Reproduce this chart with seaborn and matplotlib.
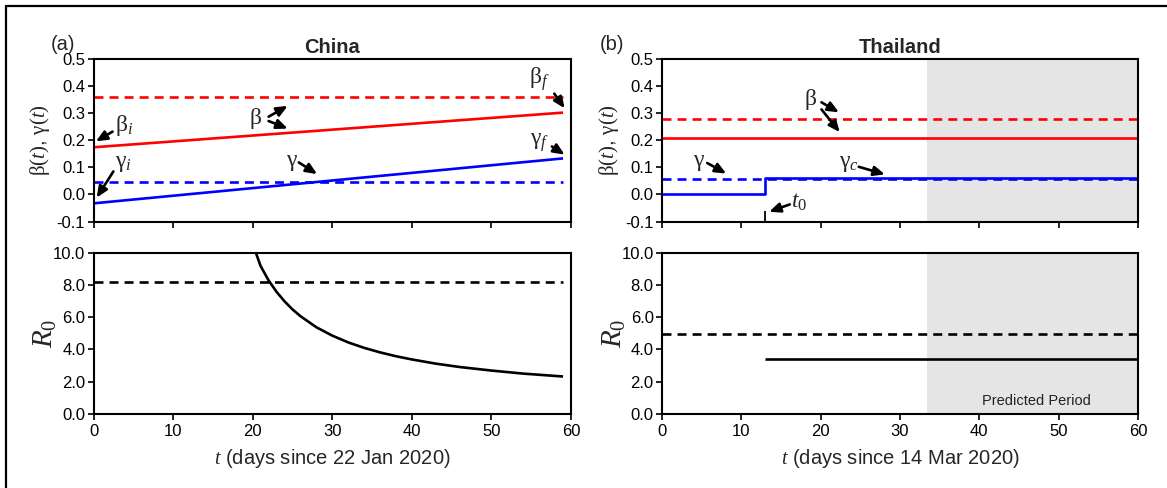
import numpy as np
import pandas as pd
import matplotlib
matplotlib.use("Agg")
import matplotlib.pyplot as plt
from matplotlib.lines import Line2D
import seaborn as sns

# ---------------- data ----------------
# China
cn_t_lin = [0, 59]
cn_beta = [0.174, 0.302]
cn_gamma = [-0.033, 0.133]
cn_beta_const = 0.361
cn_gamma_const = 0.045
cn_r0_t = [20.4, 21, 22, 23, 24, 25, 26, 28, 30, 32, 34, 36, 38, 40, 43, 46, 50, 54, 59]
cn_r0 = [10.0, 9.17, 8.28, 7.57, 6.98, 6.48, 6.06, 5.37, 4.85, 4.43, 4.09, 3.81,
         3.57, 3.37, 3.11, 2.90, 2.68, 2.49, 2.31]
cn_r0_const = 8.18

# Thailand
th_t_line = [0, 60]
th_beta_const = 0.278
th_beta = 0.207
th_gamma_const = 0.057
th_gamma_t = [0, 13, 60]
th_gamma = [0.0, 0.062, 0.062]
th_t0 = 13
th_r0_t = [13, 60]
th_r0 = [3.38, 3.38]
th_r0_const = 4.95
th_pred_start = 33.4
th_pred_end = 60

xticks = [0, 10, 20, 30, 40, 50, 60]
top_yticks = [-0.1, 0.0, 0.1, 0.2, 0.3, 0.4, 0.5]
bot_yticks = [0.0, 2.0, 4.0, 6.0, 8.0, 10.0]

# ---------------- style ----------------
sns.set_theme(style="ticks")
plt.rcParams["font.family"] = ["Liberation Sans", "DejaVu Sans"]
plt.rcParams["mathtext.fontset"] = "custom"
plt.rcParams["mathtext.rm"] = "Liberation Serif"
plt.rcParams["mathtext.it"] = "Liberation Serif:italic"
plt.rcParams["mathtext.bf"] = "Liberation Serif:bold"

RED = "#ff0000"
BLUE = "#0000ff"
LW = 1.9
DASH = (3.4, 2.3)

W, H = 1167, 488
fig = plt.figure(figsize=(W / 100, H / 100), dpi=100)


def ax_rect(x0, x1, ytop, ybot):
    return [x0 / W, 1 - ybot / H, (x1 - x0) / W, (ybot - ytop) / H]


axA1 = fig.add_axes(ax_rect(93.5, 571, 59, 221.5))
axA2 = fig.add_axes(ax_rect(93.5, 571, 252.7, 413.7))
axB1 = fig.add_axes(ax_rect(662, 1138, 59, 221.5))
axB2 = fig.add_axes(ax_rect(662, 1138, 252.7, 413.7))


def line(ax, x, y, color, dashed=False, **kw):
    sns.lineplot(x=x, y=y, ax=ax, color=color, lw=LW, estimator=None,
                 sort=False, legend=False, **kw)
    ln = ax.lines[-1]
    ln.set_solid_capstyle("butt")
    if dashed:
        ln.set_dashes(DASH)
        ln.set_dash_capstyle("butt")
    return ln


def style_axes(ax, yticks, ylim, fmt, xlabels):
    ax.set_xlim(0, 60)
    ax.set_ylim(*ylim)
    ax.set_xticks(xticks)
    ax.set_yticks(yticks)
    ax.set_yticklabels([fmt.format(v) for v in yticks])
    if xlabels:
        ax.set_xticklabels([str(v) for v in xticks])
    else:
        ax.set_xticklabels([])
    for sp in ax.spines.values():
        sp.set_visible(True)
        sp.set_linewidth(1.5)
        sp.set_color("black")
    ax.tick_params(axis="both", direction="out", length=4.5, width=1.2,
                   colors="black", labelsize=12, pad=1.5)
    ax.tick_params(axis="x", pad=3)
    ax.set_xlabel("")
    ax.set_ylabel("")
    ax.set_facecolor("white")


# ---- China top
line(axA1, cn_t_lin, [cn_beta_const] * 2, RED, dashed=True)
line(axA1, cn_t_lin, cn_beta, RED)
line(axA1, cn_t_lin, [cn_gamma_const] * 2, BLUE, dashed=True)
line(axA1, cn_t_lin, cn_gamma, BLUE)
style_axes(axA1, top_yticks, (-0.1, 0.5), "{:.1f}", False)

# ---- China bottom
line(axA2, [0, 59], [cn_r0_const] * 2, "black", dashed=True)
line(axA2, cn_r0_t, cn_r0, "black")
style_axes(axA2, bot_yticks, (0, 10), "{:.1f}", True)

# ---- Thailand top
axB1.axvspan(th_pred_start, th_pred_end, color="#e5e5e5", lw=0, zorder=0)
line(axB1, th_t_line, [th_beta_const] * 2, RED, dashed=True)
line(axB1, th_t_line, [th_beta] * 2, RED)
line(axB1, th_t_line, [th_gamma_const] * 2, BLUE, dashed=True)
line(axB1, th_gamma_t, th_gamma, BLUE, drawstyle="steps-post")
line(axB1, [th_t0, th_t0], [-0.1, -0.06], "black")
axB1.lines[-1].set_linewidth(1.3)
style_axes(axB1, top_yticks, (-0.1, 0.5), "{:.1f}", False)

# ---- Thailand bottom
axB2.axvspan(th_pred_start, th_pred_end, color="#e5e5e5", lw=0, zorder=0)
line(axB2, th_t_line, [th_r0_const] * 2, "black", dashed=True)
line(axB2, th_r0_t, th_r0, "black")
style_axes(axB2, bot_yticks, (0, 10), "{:.1f}", True)
axB2.text(47.2, 0.77, "Predicted Period", ha="center", va="center",
          fontsize=10.5, color="#222222")

# ---- labels
for ax, x0 in ((axA1, 93.5), (axB1, 662)):
    ax.set_ylabel(r"$\mathrm{\beta}(t)$, $\mathrm{\gamma}(t)$", fontsize=15)
    ax.yaxis.label.set_ha("center")
    ax.yaxis.label.set_va("center")
    ax.yaxis.set_label_coords((x0 - 53 - x0) / 477.0 + 0.0, 0.5)
for ax, x0 in ((axA2, 93.5), (axB2, 662)):
    ax.set_ylabel(r"$R_0$", fontsize=21)
    ax.yaxis.label.set_ha("center")
    ax.yaxis.label.set_va("center")
    ax.yaxis.set_label_coords(-48 / 477.0, 0.5)
axA1.yaxis.set_label_coords(-53 / 477.0, 0.5)
axB1.yaxis.set_label_coords(-53 / 477.0, 0.5)
axA2.set_xlabel(r"$t$ (days since 22 Jan 2020)", fontsize=14.5, labelpad=6)
axB2.set_xlabel(r"$t$ (days since 14 Mar 2020)", fontsize=14.5, labelpad=6)

axA1.set_title("China", fontsize=14.5, fontweight="bold", pad=4)
axB1.set_title("Thailand", fontsize=14.5, fontweight="bold", pad=4)
fig.text(63 / W, 1 - 44 / H, "(a)", fontsize=14.5, ha="center", va="center")
fig.text(612 / W, 1 - 44 / H, "(b)", fontsize=14.5, ha="center", va="center")

# ---- annotations
AP = dict(arrowstyle="-|>,head_length=0.55,head_width=0.24", color="black",
          lw=1.9, shrinkA=0, shrinkB=0)
FS = 17


def arrow(ax, start, tip):
    ax.annotate("", xy=tip, xytext=start, arrowprops=AP)


def lab(ax, x, y, s):
    ax.text(x, y, s, fontsize=FS, ha="center", va="center")


# China
lab(axA1, 56.0, 0.425, r"$\mathrm{\beta}_f$")
arrow(axA1, (57.9, 0.372), (59.2, 0.318))
lab(axA1, 20.4, 0.28, r"$\mathrm{\beta}$")
arrow(axA1, (22.0, 0.287), (24.4, 0.327))
arrow(axA1, (22.0, 0.271), (24.4, 0.243))
lab(axA1, 3.8, 0.255, r"$\mathrm{\beta}_i$")
arrow(axA1, (2.4, 0.232), (0.3, 0.196))
lab(axA1, 3.8, 0.115, r"$\mathrm{\gamma}_i$")
arrow(axA1, (2.5, 0.085), (0.4, -0.012))
lab(axA1, 24.9, 0.118, r"$\mathrm{\gamma}$")
arrow(axA1, (25.8, 0.118), (28.1, 0.075))
lab(axA1, 56.0, 0.19, r"$\mathrm{\gamma}_f$")
arrow(axA1, (57.6, 0.177), (59.2, 0.147))

# Thailand
lab(axB1, 18.7, 0.35, r"$\mathrm{\beta}$")
arrow(axB1, (20.1, 0.34), (22.3, 0.303))
arrow(axB1, (20.1, 0.314), (22.4, 0.23))
lab(axB1, 4.7, 0.118, r"$\mathrm{\gamma}$")
arrow(axB1, (5.7, 0.116), (8.1, 0.077))
lab(axB1, 23.6, 0.115, r"$\mathrm{\gamma}_c$")
arrow(axB1, (24.8, 0.102), (28.1, 0.074))
lab(axB1, 17.3, -0.028, r"$t_0$")
arrow(axB1, (16.1, -0.037), (13.5, -0.064))

# ---- outer frame
fig.add_artist(Line2D([6 / W, 6 / W], [0, 1 - 6 / H], transform=fig.transFigure,
                      color="black", lw=1.6))
fig.add_artist(Line2D([6 / W, 1], [1 - 6 / H, 1 - 6 / H], transform=fig.transFigure,
                      color="black", lw=1.6))

fig.savefig("out.png", dpi=100, facecolor="white")
